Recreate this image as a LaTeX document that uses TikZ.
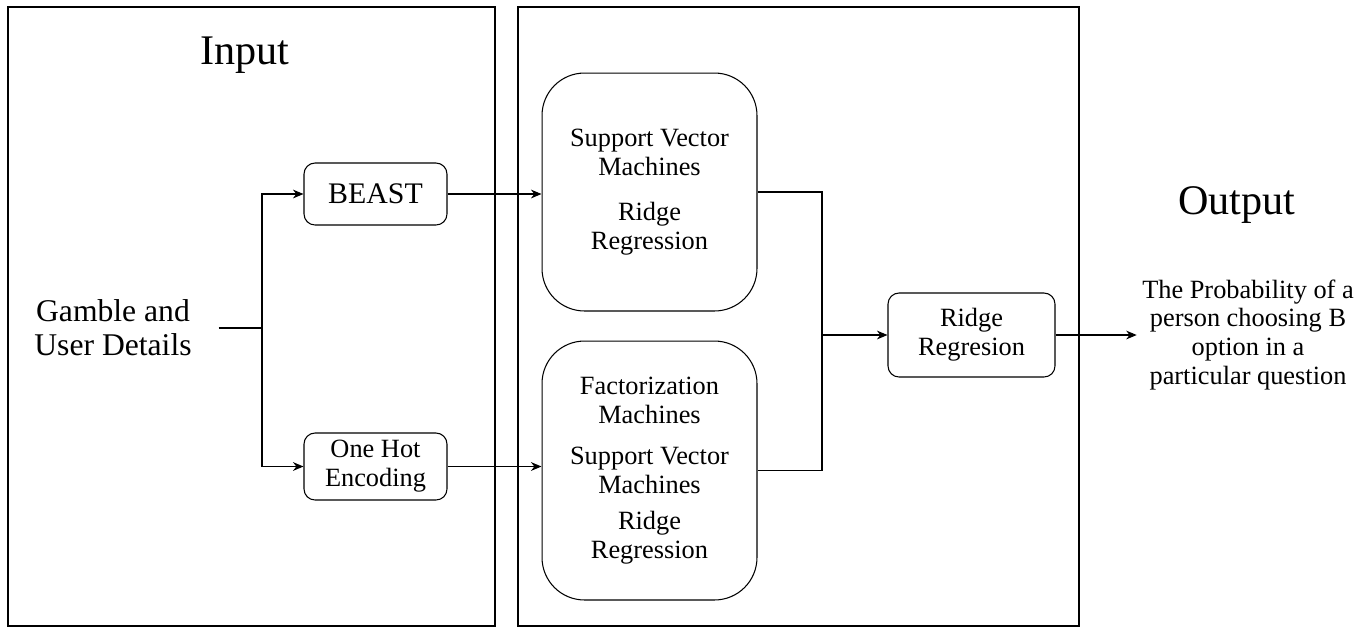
\documentclass[tikz,border=0pt]{standalone}
\usepackage{fontspec}
\setmainfont{Liberation Serif}
\usepackage{tikz}
\usetikzlibrary{positioning}
\usetikzlibrary{shapes,arrows.meta}

\tikzset{
  panel/.style={draw, line width=0.7pt},
  smallbox/.style={draw, rounded corners=0.22cm, minimum width=2.86cm, align=center, font=\fontsize{15}{16.5}\selectfont},
  bigbox/.style={draw, rounded corners=0.85cm, minimum width=4.3cm, align=center, font=\fontsize{15}{16.5}\selectfont},
  heading/.style={font=\fontsize{24}{28}\selectfont},
  plaintext/.style={align=center, font=\fontsize{15}{16.5}\selectfont}
}

\begin{document}
\begin{tikzpicture}[x=0.02cm, y=-0.02cm, line width=0.6pt, >={Stealth[length=6pt,width=5pt]}]
    \useasboundingbox (0,0) rectangle (1366,627);
    \draw [panel] (8,7) rectangle (495,626);
    \draw [panel] (518,7) rectangle (1079,626);

    \node [heading] (input) at (245,55) {Input};
    \node [heading] (output) at (1237,205) {Output};

    \node [align=center, minimum width=4.2cm, font=\fontsize{18}{19.5}\selectfont] (gamble) at (113,328) {Gamble and \\ User Details};
    \node [smallbox, minimum height=1.24cm, font=\fontsize{17}{19}\selectfont] (beast) at (375.5,194) {BEAST};
    \node [smallbox, minimum height=1.34cm] (onehot) at (375.5,466.5) {One Hot \\ Encoding};
    \node [bigbox, minimum height=4.76cm] (svm) at (649.5,192) {Support Vector \\ Machines \\[9pt] Ridge \\ Regression};
    \node [bigbox, minimum height=5.18cm] (fm) at (649.5,470.5) {Factorization \\ Machines \\[7pt] Support Vector \\ Machines \\[4pt] Ridge \\ Regression};
    \node [smallbox, minimum width=3.34cm, minimum height=1.68cm] (ridge) at (971.5,335) {Ridge \\ Regresion};
    \node [plaintext, inner xsep=0.1cm] (result) at (1248,335) {The Probability of a \\ person choosing B \\ option in a \\ particular question};

    \coordinate (split) at (262,328);
    \coordinate (merge) at (822,335);

    \draw (gamble.east) -- (split);
    \draw [->] (split) |- (beast.west);
    \draw [->] (split) |- (onehot.west);
    \draw [->] (beast.east) -- (beast.east -| svm.west);
    \draw [->] (onehot.east) -- (onehot.east -| fm.west);
    \draw (svm.east) -| (merge);
    \draw (fm.east) -| (merge);
    \draw [->] (merge) -- (ridge.west);
    \draw [->] (ridge.east) -- (result.west);
\end{tikzpicture}
\end{document}
